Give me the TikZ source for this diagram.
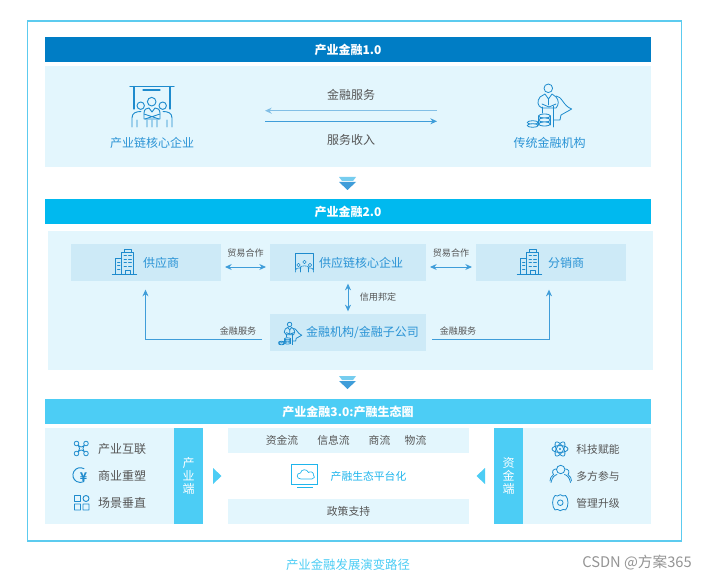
\documentclass[tikz,border=0pt]{standalone}
\usepackage{fontspec}
\setmainfont{Noto Sans CJK SC}
\usetikzlibrary{arrows.meta}
\definecolor{barA}{HTML}{007DC5}
\definecolor{barB}{HTML}{00B9EF}
\definecolor{barC}{HTML}{4CCDF5}
\definecolor{panelc}{HTML}{E3F6FD}
\definecolor{boxc}{HTML}{CDEAF7}
\definecolor{framec}{HTML}{5CCBEF}
\definecolor{iconc}{HTML}{1E8BCD}
\definecolor{arrc}{HTML}{3F9DD9}
\definecolor{lblue}{HTML}{2A93D5}
\definecolor{cyant}{HTML}{1FB5EC}
\definecolor{grayt}{HTML}{555555}
\newcommand\fta{\fontsize{9pt}{11pt}\selectfont}
\newcommand\ftb{\fontsize{8.1pt}{10pt}\selectfont}
\newcommand\ftc{\fontsize{6.8pt}{8pt}\selectfont}
\tikzset{
  x=0.75pt,y=-0.75pt,
  blk/.style={draw=none,inner sep=0pt,outer sep=0pt},
  bar/.style={blk,text=white,font=\fta\bfseries},
  txt/.style={inner sep=0pt,outer sep=0pt,font=\fta,text=grayt},
  txtm/.style={txt,font=\ftb},
  txts/.style={txt,font=\ftc},
  txtb/.style={txt,text=lblue},
  ic/.style={draw=iconc,line width=0.6pt,fill=none,line cap=round,line join=round},
  conn/.style={draw=arrc,line width=0.7pt,arrows={-Stealth[length=5pt,width=4.5pt]}},
  dconn/.style={draw=arrc,line width=0.7pt,arrows={Stealth[length=5pt,width=4.5pt]-Stealth[length=5pt,width=4.5pt]}}
}
\newcommand\bldg[1]{\begin{scope}[shift={(#1,0)}]
  \draw[ic,line width=.5pt] (112.3,274.3)--(136.7,274.3);
  \draw[ic,line width=.5pt] (121.7,274.3)--(121.7,252)--(133.7,252)--(133.7,274.3);
  \draw[ic,line width=.5pt] (124.3,252)--(124.3,249.3)--(131,249.3)--(131,252);
  \draw[ic,line width=.5pt] (121.7,258.3)--(115.7,258.3)--(115.7,274.3);
  \foreach \yy in {255.5,259,262.5,266}{\draw[ic,line width=.4pt] (124,\yy)--(126.5,\yy) (128.5,\yy)--(131.5,\yy);}
  \foreach \yy in {262,265.5,269}{\draw[ic,line width=.4pt] (117.5,\yy)--(120,\yy);}
  \draw[ic,line width=.4pt] (125.5,274.3)--(125.5,270)--(130,270)--(130,274.3);
\end{scope}}
\newcommand\finperson{
  \draw[ic] (548.3,88.3) circle[radius=4.3];
  \draw[ic] (542.7,113)--(542.7,107) (553.7,127)--(553.7,106);
  \draw[ic] (542,108) .. controls (537,106) and (537,101) .. (540,97) -- (545,94) -- (548.5,99) -- (552,94) -- (556,97) .. controls (559,100) and (559,105) .. (556,108) -- (542,108);
  \draw[ic] (542,104)--(549,107)--(556,104) (548.5,99)--(548.5,105);
  \draw[ic] (556,96) .. controls (562,96) and (563,106) .. (571.7,109) -- (561,115) -- (560,120) -- (554,120);
  \foreach \yy in {116,120,124}{\draw[ic,fill=panelc] (544.5,\yy) ellipse[x radius=6,y radius=2];}
  \draw[ic] (538.5,116)--(538.5,125) (550.5,116)--(550.5,125);
  \draw[ic,fill=panelc] (532.7,122.5) ellipse[x radius=5.5,y radius=1.8];
  \draw[ic,fill=panelc] (532.7,125.5) ellipse[x radius=5.5,y radius=1.8];
}
\begin{document}
\begin{tikzpicture}
\useasboundingbox (0,0) rectangle (707,581);
\fill[white] (0,0) rectangle (707,581);
% frame
\node[blk,draw=framec,line width=0.9pt,minimum width=654*.75pt,minimum height=520*.75pt] (frame) at (354.5,281) {};
% stage 1
\node[bar,fill=barA,minimum width=606*.75pt,minimum height=25*.75pt] (barone) at (348,49.5) {产业金融1.0};
\node[blk,fill=panelc,minimum width=606*.75pt,minimum height=101*.75pt] (panelone) at (348,116.5) {};
% triangles
\fill[barB!55!arrc,opacity=.6] (339,177)--(356,177)--(353,181)--(342,181)--cycle;
\fill[arrc] (339,182)--(356,182)--(347.5,190)--cycle;
% stage 2
\node[bar,fill=barB,minimum width=606*.75pt,minimum height=25*.75pt] (bartwo) at (348,211.5) {产业金融2.0};
\node[blk,fill=panelc,minimum width=605*.75pt,minimum height=139*.75pt] (paneltwo) at (350.5,300.5) {};
\node[blk,fill=boxc,minimum width=150*.75pt,minimum height=37*.75pt] (sup) at (146,262.5) {};
\node[blk,fill=boxc,minimum width=156*.75pt,minimum height=37*.75pt] (core) at (348,262.5) {};
\node[blk,fill=boxc,minimum width=150*.75pt,minimum height=37*.75pt] (dist) at (551,262.5) {};
\node[blk,fill=boxc,minimum width=156*.75pt,minimum height=37*.75pt] (fin) at (348,332.5) {};
% triangles 2
\fill[barB!55!arrc,opacity=.6] (339,376)--(356,376)--(353,380)--(342,380)--cycle;
\fill[arrc] (339,381)--(356,381)--(347.5,389)--cycle;
% stage 3
\node[bar,fill=barC,minimum width=606*.75pt,minimum height=25*.75pt] (barthree) at (348,411.5) {产业金融3.0:产融生态圈};
\node[blk,fill=panelc,minimum width=158*.75pt,minimum height=96*.75pt] (pleft) at (124,476) {};
\node[blk,fill=barC,minimum width=29*.75pt,minimum height=96*.75pt,text=white,font=\fta,align=center] (lend) at (188.5,476) {产\\[-1.5pt]业\\[-1.5pt]端};
\node[blk,fill=panelc,minimum width=241*.75pt,minimum height=25*.75pt] (mtop) at (348.5,440.5) {};
\node[blk,fill=panelc,minimum width=241*.75pt,minimum height=25*.75pt] (mbot) at (348.5,511.5) {};
\node[blk,fill=panelc,minimum width=128*.75pt,minimum height=96*.75pt] (pright) at (587,476) {};
\node[blk,fill=barC,minimum width=29*.75pt,minimum height=96*.75pt,text=white,font=\fta,align=center] (rend) at (508.5,476) {资\\[-1.5pt]金\\[-1.5pt]端};
\fill[barC] (213,468)--(221.5,476)--(213,484)--cycle;
\fill[barC] (485,468)--(476.5,476)--(485,484)--cycle;
% stage 1 text
\node[txtb] (corp) at (152,143) {产业链核心企业};
\node[txtb] (bank) at (549.5,143) {传统金融机构};
\node[txt] (fs) at (351,95) {金融服务};
\node[txt] (sr) at (351,139.5) {服务收入};
\coordinate (ar) at (437,110.7);
\coordinate (al) at (265,110.7);
\coordinate (br) at (265,121.3);
\coordinate (bl) at (437,121.3);
\draw[conn,draw=arrc!65,line width=1pt] (ar)--(al);
\draw[conn] (br)--(bl);
% icon: core enterprise
\draw[ic,line width=.8pt] (130,86.5)--(174,86.5) (134,86.5)--(134,109) (170,86.5)--(170,109) (143,90)--(160,90);
\draw[ic,line width=.7pt] (151.7,101.7) circle[radius=4.3] (140.7,105.7) circle[radius=3.7] (162.7,105.7) circle[radius=3.7];
\draw[ic,line width=.7pt] (132,127)--(132,118) .. controls (132,113) and (136,111.5) .. (141,111.5) (172,127)--(172,118) .. controls (172,113) and (168,111.5) .. (163,111.5);
\draw[ic,line width=.7pt] (144,113) .. controls (144,109) and (147,108) .. (149,108) -- (152,112) -- (155,108) .. controls (157,108) and (160,109) .. (160,113) -- (160,119) -- (144,119) -- cycle;
\draw[ic,line width=.7pt] (144,114)--(159,119) (160,114)--(145,119) (147,120)--(147,127) (157,120)--(157,127) (137,120)--(137,127) (167,120)--(167,127) (152,120)--(152,127);
% icon: bank
\finperson
% stage 2 text
\bldg{0}
\bldg{405}
\node[txtb] (supt) at (161,262.5) {供应商};
\node[txtb] (distt) at (566,262.5) {分销商};
\node[txtb] (coret) at (361,262.5) {供应链核心企业};
\node[txtb] (fint) at (362.5,332.5) {金融机构/金融子公司};
\node[txts] (tl) at (245.5,253.5) {贸易合作};
\node[txts] (tr) at (451,253.5) {贸易合作};
\node[txts] (cr) at (378,297) {信用邦定};
\node[txts] (ml) at (238,331.5) {金融服务};
\node[txts] (mr) at (458,331.5) {金融服务};
% connectors
\draw[dconn] ([shift={(4,4.5)}]sup.east)--([shift={(-4,4.5)}]core.west);
\draw[dconn] ([shift={(4,4.5)}]core.east)--([shift={(-4,4.5)}]dist.west);
\draw[dconn,shorten >=2pt,shorten <=2pt] (core.south)--(fin.north);
\draw[conn,shorten >=6.5pt] ([shift={(-8,7)}]fin.west)-|([xshift=-.4pt]sup.south);
\draw[conn,shorten >=6.5pt] ([shift={(6,7)}]fin.east)-|([xshift=-1.5pt]dist.south);
% core icon
\draw[ic,line width=.45pt] (295.5,270)--(295.5,253.5)--(313,253.5)--(313,270);
\foreach \xx/\yy in {298.5/265,304.5/262,310/265}{\draw[ic,line width=.45pt] (\xx,\yy) circle[radius=1.7];}
\draw[ic,line width=.45pt] (295.5,272)..controls(295.5,268)and(297,268)..(301,268) (313.5,272)..controls(313.5,268)and(312,268)..(308,268) (300.5,272)--(300.5,267)..controls(301,265.5)and(308,265.5)..(308.5,267)--(308.5,272);
% fin icon
\begin{scope}[shift={(278-526*.52,321.7-83*.52)},scale=.52]
\begin{scope}[every path/.append style={line width=.45pt}]
\finperson
\end{scope}
\end{scope}
% stage 3 text
\node[txt] (l1) at (122,449) {产业互联};
\node[txt] (l2) at (122,476) {商业重塑};
\node[txt] (l3) at (122,503) {场景垂直};
\node[txtm] (m1) at (282,440) {资金流};
\node[txtm] (m2) at (333.5,440) {信息流};
\node[txtm] (m3) at (379.5,440) {商流};
\node[txtm] (m4) at (415.5,440) {物流};
\node[txtm,text=cyant] (m5) at (368.5,476) {产融生态平台化};
\node[txtm] (m6) at (348.5,511.5) {政策支持};
\node[txtm] (r1) at (598,449) {科技赋能};
\node[txtm] (r2) at (598,476) {多方参与};
\node[txtm] (r3) at (598,503) {管理升级};
% left icons
\draw[ic] (76.5,443.5) circle[radius=2.3] (86,443.5) circle[radius=2.3] (76.5,453.5) circle[radius=2.3] (86,453.5) circle[radius=2.3];
\draw[ic] (78.2,445.2)..controls(80.5,447.5)and(82,447.5)..(84.3,445.2) (84.3,445.2)..controls(82.5,447.5)and(82.5,449.5)..(84.3,451.8) (84.3,451.8)..controls(82,449.5)and(80.5,449.5)..(78.2,451.8) (78.2,451.8)..controls(80,449.5)and(80,447.5)..(78.2,445.2);
\draw[ic,line width=.7pt] (84,468.7) arc[start angle=-60,end angle=-300,radius=7.4];
\node[inner sep=0pt,text=iconc,font=\fontsize{9pt}{10pt}\selectfont\bfseries] (yen) at (83.5,477) {¥};
\draw[ic,line width=.7pt] (74.5,495.5) rectangle (80.5,501.5) (74.5,504) rectangle (80.5,510) (83,504) rectangle (89,510) (86,498.5) circle[radius=3];
% right icons
\foreach \ang in {0,60,120}{\draw[ic,rotate around={\ang:(560,449)}] (560,449) ellipse[x radius=8,y radius=3.4];}
\fill[iconc] (560,449) circle[radius=1.1];
\draw[ic] (560.7,469.5) circle[radius=4.2];
\draw[ic] (551,482.5) ..controls(552,477)and(555,475)..(557,474.5) (570.5,482.5)..controls(569.5,477)and(566.5,475)..(564.5,474.5);
\draw[ic] (556,469)..controls(553,469)and(551.5,472)..(553.5,474.5)..controls(551,476)and(550,479)..(550,481) (565.5,469)..controls(568.5,469)and(570,472)..(568,474.5)..controls(570.5,476)and(571.5,479)..(571.5,481);
\draw[ic] (560.3,502.7) circle[radius=2.8];
\draw[ic] (555,495.5)..controls(557,497)and(558,495.5)..(560.3,494.7)..controls(562.6,495.5)and(563.6,497)..(565.6,495.5)..controls(568,497)and(567,499.5)..(568,502.7)..controls(567,505.9)and(568,508.4)..(565.6,509.9)..controls(563.6,508.4)and(562.6,509.9)..(560.3,510.7)..controls(558,509.9)and(557,508.4)..(555,509.9)..controls(552.6,508.4)and(553.6,505.9)..(552.6,502.7)..controls(553.6,499.5)and(552.6,497)..(555,495.5)--cycle;
% monitor
\draw[draw=cyant,line width=.7pt] (291.5,464.5) rectangle (317.5,484);
\draw[draw=cyant,line width=.7pt] (297,487.3)--(313,487.3);
\draw[draw=cyant,line width=.5pt,line join=round] (301,479)..controls(296,479)and(296,473)..(300.5,473)..controls(301,469)and(307,468.5)..(308.5,472.5)..controls(310,471)and(314,472)..(313.5,475)..controls(315.5,476)and(314.5,479)..(312,479)--cycle;
% caption
\node[inner sep=0pt,font=\fontsize{9.3pt}{11pt}\selectfont,text=barC] (cap) at (348,564.5) {产业金融发展演变路径};
\node[inner sep=0pt,anchor=east,font=\fontsize{11pt}{12pt}\selectfont,text=black!42] (wm) at (692,563) {CSDN @方案365};
\end{tikzpicture}
\end{document}
